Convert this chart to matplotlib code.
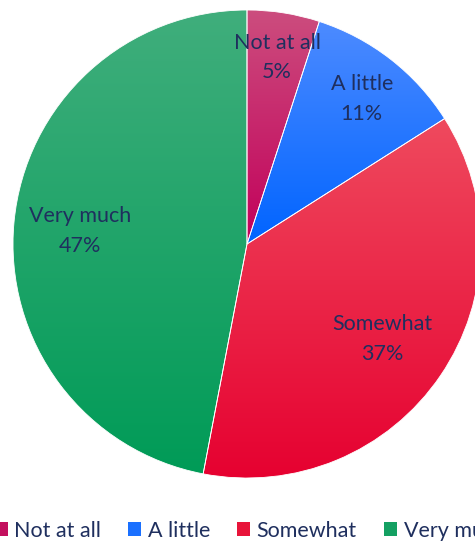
import numpy as np
import matplotlib.pyplot as plt
from matplotlib.colors import LinearSegmentedColormap
from matplotlib.patches import Rectangle

# -------------------------------------------------
# Data
# -------------------------------------------------

categories = ["Not at all", "A little", "Somewhat", "Very much"]
shares = [5, 11, 37, 47]

# gradient colours (top -> bottom) for each slice
top_colors = ["#CC4D7E", "#4D8BFF", "#EF4A5E", "#40AE7C"]
bottom_colors = ["#C2005A", "#0064FF", "#E60030", "#009B57"]
legend_colors = ["#C3105E", "#1A70FF", "#E8143A", "#14A062"]

# radial position of each data label (fraction of radius)
label_dist = [0.82, 0.80, 0.70, 0.715]

text_color = "#1F2F5E"
plt.rcParams["font.family"] = ["Lato", "DejaVu Sans"]

# -------------------------------------------------
# Figure
# -------------------------------------------------

fig = plt.figure(figsize=(4.75, 5.43), dpi=100)
ax = fig.add_axes([0, 0, 1, 1])

cx, cy, r = 247, 299, 234

wedges, _ = ax.pie(
    shares,
    center=(cx, cy),
    radius=r,
    startangle=90,
    counterclock=False,
    wedgeprops=dict(facecolor="none", edgecolor="white", linewidth=0.6, zorder=3),
)

# gradient fill for every wedge
grad = np.linspace(0, 1, 256).reshape(-1, 1)
for w, c_top, c_bot in zip(wedges, top_colors, bottom_colors):
    verts = w.get_path().vertices
    x0, y0 = verts.min(axis=0)
    x1, y1 = verts.max(axis=0)
    cmap = LinearSegmentedColormap.from_list("g", [c_top, c_bot])
    im = ax.imshow(
        grad, cmap=cmap, aspect="auto", origin="upper",
        extent=(x0, x1, y0, y1), zorder=2,
    )
    im.set_clip_path(w)

ax.set_xlim(0, 475)
ax.set_ylim(0, 543)
ax.set_aspect("equal")
ax.axis("off")

# data labels
for w, cat, val, d in zip(wedges, categories, shares, label_dist):
    mid = np.deg2rad((w.theta1 + w.theta2) / 2)
    ax.text(
        cx + d * r * np.cos(mid),
        cy + d * r * np.sin(mid) - 3,
        f"{cat}\n{val}%",
        ha="center", va="center",
        fontsize=15.5, color=text_color,
        linespacing=1.6, zorder=4,
    )

# legend
handles = [Rectangle((0, 0), 1, 1, facecolor=c, edgecolor="none") for c in legend_colors]
leg = fig.legend(
    handles, categories,
    loc="center",
    bbox_to_anchor=(250 / 475, 12 / 543),
    ncol=4,
    frameon=False,
    fontsize=15.5,
    handlelength=0.62,
    handleheight=0.62,
    handletextpad=0.3,
    columnspacing=1.25,
)
for t in leg.get_texts():
    t.set_color(text_color)

# -------------------------------------------------
# Save Figure
# -------------------------------------------------

fig.savefig("out.png", dpi=100)
